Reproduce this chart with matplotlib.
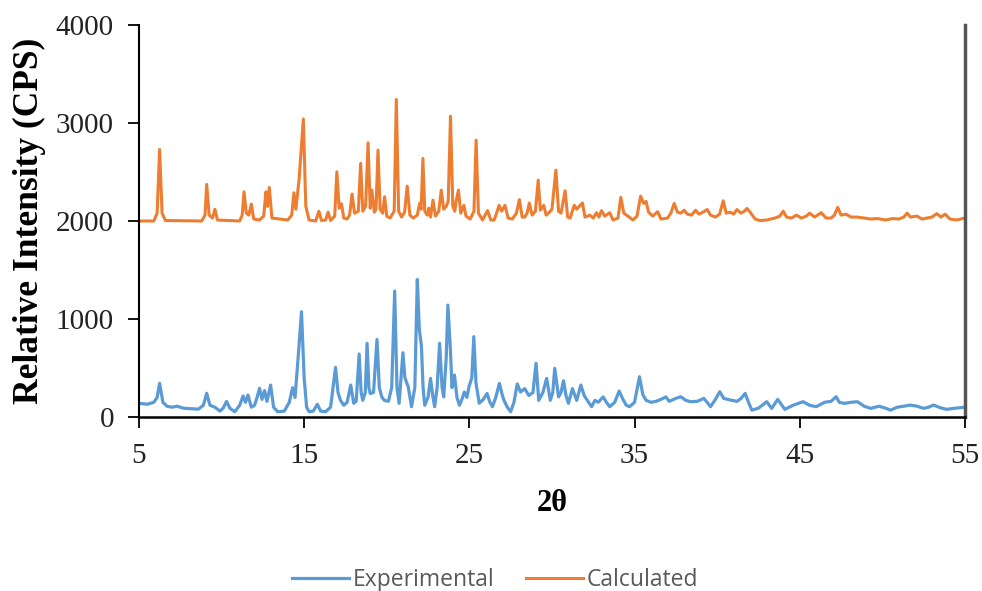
import matplotlib
matplotlib.use('Agg')
import matplotlib.pyplot as plt

# 2-theta positions and intensities for each pattern (calculated one is offset by +2000)
exp_two_theta = [
    5.0, 5.5, 5.9, 6.1, 6.25, 6.45, 6.7, 7.0, 7.3, 7.7, 8.2, 8.6, 8.9, 9.1, 9.3, 9.6, 9.9,
    10.1, 10.3, 10.5, 10.8, 11.1, 11.3, 11.45, 11.6, 11.8, 12.0, 12.15, 12.3, 12.45, 12.6,
    12.75, 12.97, 13.15, 13.4, 13.8, 14.1, 14.3, 14.45, 14.64, 14.84, 15.0, 15.15, 15.3,
    15.55, 15.8, 16.0, 16.3, 16.6, 16.9, 17.05, 17.2, 17.4, 17.6, 17.82, 18.0, 18.15, 18.33,
    18.45, 18.55, 18.7, 18.81, 18.92, 19.0, 19.2, 19.41, 19.55, 19.7, 19.85, 20.1, 20.3,
    20.48, 20.62, 20.75, 20.98, 21.1, 21.3, 21.5, 21.7, 21.85, 21.97, 22.1, 22.2, 22.3,
    22.5, 22.65, 22.8, 22.9, 23.05, 23.2, 23.35, 23.45, 23.6, 23.7, 23.85, 23.95, 24.1,
    24.25, 24.4, 24.55, 24.7, 24.85, 24.98, 25.15, 25.27, 25.4, 25.6, 25.85, 26.07, 26.25,
    26.4, 26.6, 26.82, 27.0, 27.1, 27.3, 27.5, 27.7, 27.9, 28.1, 28.35, 28.6, 28.85, 29.04,
    29.2, 29.45, 29.68, 29.9, 30.05, 30.17, 30.4, 30.55, 30.7, 30.85, 31.0, 31.24, 31.5,
    31.75, 31.95, 32.14, 32.4, 32.6, 32.8, 33.1, 33.3, 33.5, 33.8, 34.07, 34.3, 34.5, 34.7,
    35.0, 35.3, 35.5, 35.7, 36.0, 36.3, 36.6, 36.9, 37.1, 37.3, 37.5, 37.8, 38.1, 38.4,
    38.8, 39.2, 39.6, 39.9, 40.16, 40.4, 40.8, 41.2, 41.45, 41.7, 41.9, 42.1, 42.5, 43.0,
    43.3, 43.67, 44.1, 44.6, 45.2, 45.6, 46.0, 46.5, 46.9, 47.2, 47.4, 47.7, 48.1, 48.5,
    48.9, 49.3, 49.8, 50.2, 50.5, 50.9, 51.3, 51.7, 52.1, 52.5, 52.8, 53.1, 53.5, 53.9,
    54.4, 55.0,
]
exp_intensity = [
    140, 130, 150, 200, 344, 150, 110, 100, 110, 90, 85, 80, 120, 242, 120, 100, 60,
    90, 160, 90, 54, 120, 214, 150, 224, 100, 120, 200, 293, 180, 270,
    160, 326, 100, 54, 60, 150, 299, 200, 615, 1074, 400, 100, 54,
    60, 130, 60, 54, 100, 507, 250, 170, 120, 150, 326, 140, 160, 643,
    250, 170, 250, 752, 300, 240, 250, 792, 300, 205, 170, 160, 300,
    1285, 300, 140, 656, 400, 309, 105, 300, 1404, 900, 724, 300, 120,
    200, 394, 200, 105, 300, 752, 300, 205, 600, 1142, 700, 300, 428,
    200, 120, 180, 255, 200, 309, 400, 820, 350, 140, 180, 240, 150,
    105, 200, 343, 220, 170, 100, 54, 150, 337, 255, 290, 220, 250, 548,
    170, 250, 394, 170, 250, 497, 205, 250, 370, 220, 140, 290, 170,
    326, 220, 170, 105, 170, 150, 205, 150, 105, 150, 265, 180, 120, 105,
    150, 411, 230, 170, 150, 160, 180, 205, 160, 175, 190, 207, 170, 156,
    160, 190, 105, 180, 258, 190, 173, 160, 190, 241, 150, 70, 90, 156,
    88, 180, 78, 120, 156, 120, 105, 150, 160, 207, 150, 139, 150, 156,
    110, 88, 110, 90, 70, 100, 110, 122, 110, 88, 100, 122, 95, 78,
    90, 100,
]

calc_two_theta = [
    5.0, 5.9, 6.1, 6.25, 6.4, 6.6, 8.8, 9.0, 9.1, 9.25, 9.45, 9.6, 9.75, 11.1, 11.25,
    11.36, 11.5, 11.65, 11.8, 11.95, 12.3, 12.55, 12.69, 12.78, 12.89, 13.05, 14.0, 14.25,
    14.38, 14.5, 14.7, 14.95, 15.1, 15.3, 15.7, 15.89, 16.05, 16.3, 16.45, 16.6, 16.85,
    16.98, 17.12, 17.26, 17.4, 17.6, 17.75, 17.9, 18.05, 18.28, 18.42, 18.55, 18.72, 18.87,
    19.0, 19.1, 19.25, 19.35, 19.47, 19.6, 19.75, 19.87, 20.0, 20.2, 20.45, 20.58, 20.72,
    20.9, 21.08, 21.24, 21.4, 21.6, 21.85, 21.99, 22.08, 22.19, 22.3, 22.45, 22.55, 22.65,
    22.8, 22.95, 23.15, 23.3, 23.45, 23.6, 23.72, 23.86, 24.0, 24.12, 24.2, 24.34, 24.48,
    24.67, 24.8, 25.05, 25.28, 25.41, 25.55, 25.8, 26.1, 26.3, 26.5, 26.65, 26.8, 26.95,
    27.16, 27.35, 27.6, 27.85, 28.03, 28.2, 28.35, 28.5, 28.63, 28.8, 29.0, 29.17, 29.3,
    29.5, 29.65, 29.85, 30.0, 30.24, 30.4, 30.55, 30.8, 30.95, 31.1, 31.35, 31.5, 31.65,
    31.85, 32.0, 32.3, 32.5, 32.7, 32.85, 33.0, 33.2, 33.5, 33.7, 34.0, 34.17, 34.35, 34.6,
    34.9, 35.15, 35.37, 35.55, 35.7, 35.85, 36.1, 36.4, 36.6, 37.0, 37.2, 37.4, 37.6, 37.8,
    38.0, 38.2, 38.45, 38.7, 38.9, 39.15, 39.4, 39.6, 39.9, 40.15, 40.37, 40.55, 40.8, 41.0,
    41.2, 41.45, 41.65, 41.8, 42.0, 42.3, 42.6, 43.0, 43.5, 43.8, 44.0, 44.2, 44.5, 44.8,
    45.1, 45.4, 45.6, 45.9, 46.3, 46.6, 46.9, 47.1, 47.3, 47.5, 47.8, 48.1, 48.5, 48.9,
    49.3, 49.7, 50.2, 50.6, 51.0, 51.3, 51.5, 51.7, 52.1, 52.4, 52.7, 53.0, 53.3, 53.55,
    53.8, 54.1, 54.5, 55.0,
]
calc_intensity = [
    2000, 2000, 2080, 2730, 2080, 2005, 2000, 2060, 2373, 2060, 2030, 2120, 2010, 2000, 2060,
    2298, 2080, 2060, 2173, 2020, 2010, 2050, 2298, 2150, 2343, 2030, 2010, 2060,
    2288, 2120, 2435, 3040, 2150, 2010, 2000, 2100, 2005, 2010, 2090, 2005, 2050,
    2502, 2130, 2176, 2030, 2020, 2060, 2275, 2080, 2100, 2588, 2100, 2150, 2798,
    2130, 2315, 2090, 2120, 2723, 2120, 2080, 2247, 2050, 2030, 2100, 3240, 2100,
    2040, 2090, 2356, 2060, 2030, 2060, 2180, 2120, 2638, 2100, 2060, 2130, 2040,
    2213, 2050, 2100, 2315, 2120, 2150, 2200, 3070, 2150, 2100, 2200, 2315, 2080,
    2160, 2050, 2020, 2100, 2825, 2080, 2010, 2106, 2010, 2010, 2080, 2160, 2100,
    2160, 2030, 2020, 2080, 2218, 2040, 2040, 2080, 2184, 2060, 2100, 2417, 2110,
    2160, 2060, 2090, 2120, 2519, 2100, 2080, 2309, 2040, 2030, 2160, 2120, 2150,
    2184, 2040, 2060, 2030, 2085, 2040, 2106, 2050, 2085, 2010, 2030, 2241, 2080, 2050,
    2010, 2050, 2254, 2180, 2200, 2090, 2050, 2095, 2020, 2030, 2080, 2180, 2090, 2080,
    2110, 2070, 2060, 2110, 2070, 2090, 2117, 2060, 2040, 2070, 2206, 2080, 2090, 2070,
    2117, 2080, 2100, 2128, 2090, 2020, 2005, 2010, 2030, 2050, 2100, 2040, 2030, 2060,
    2030, 2050, 2080, 2040, 2085, 2030, 2030, 2060, 2140, 2060, 2070, 2040, 2040, 2030,
    2020, 2025, 2010, 2025, 2020, 2040, 2080, 2040, 2050, 2020, 2030, 2040, 2075, 2040,
    2070, 2020, 2010, 2030,
]

x_ticks = [5, 15, 25, 35, 45, 55]
y_ticks = [0, 1000, 2000, 3000, 4000]

serif = ['Liberation Serif', 'DejaVu Serif']

fig = plt.figure(figsize=(9.82, 5.91), dpi=100)
ax = fig.add_axes([0.1415, 0.2944, 0.8411, 0.6633])

ax.plot(exp_two_theta, exp_intensity, color='#5B9BD5', linewidth=2.3,
        label='Experimental', solid_joinstyle='round')
ax.plot(calc_two_theta, calc_intensity, color='#ED7D31', linewidth=2.2,
        label='Calculated', solid_joinstyle='round')

ax.set_xlim(5, 55)
ax.set_ylim(0, 4000)
ax.set_xticks(x_ticks)
ax.set_yticks(y_ticks)
ax.set_xticklabels([str(t) for t in x_ticks], family=serif, fontsize=21)
ax.set_yticklabels([str(t) for t in y_ticks], family=serif, fontsize=21)
ax.tick_params(axis='both', direction='out', length=8, width=1.3, color='black',
               labelcolor='#222222')
ax.tick_params(axis='x', pad=11)
ax.tick_params(axis='y', pad=10)

ax.spines['top'].set_visible(False)
ax.spines['left'].set_linewidth(1.5)
ax.spines['bottom'].set_linewidth(1.8)
ax.spines['right'].set_color('#555555')
ax.spines['right'].set_linewidth(2.5)

ax.set_xlabel('2θ', family=serif, fontsize=22, fontweight='bold', labelpad=14)
ax.set_ylabel('Relative Intensity (CPS)', family=serif, fontsize=25.5,
              fontweight='bold', labelpad=7)

fig.legend(loc='lower center', bbox_to_anchor=(0.504, -0.036), ncol=2, frameon=False,
           handlelength=2.5, handletextpad=0.15, columnspacing=1.4,
           prop={'family': ['Open Sans', 'DejaVu Sans'], 'size': 16.5},
           labelcolor='#595959')

fig.savefig('out.png', dpi=100)
